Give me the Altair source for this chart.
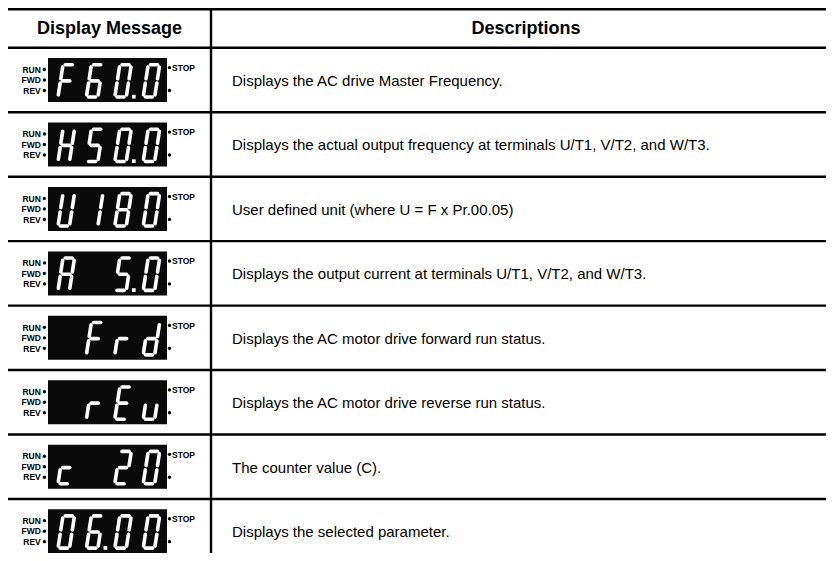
import altair as alt
import pandas as pd

# ---------------- data ----------------
headers = ["Display Message", "Descriptions"]
display_codes = ["F60.0", "H50.0", "U180", "A 5.0", " Frd", " rEu", "c 20", "06.00"]
descriptions = [
    "Displays the AC drive Master Frequency.",
    "Displays the actual output frequency at terminals U/T1, V/T2, and W/T3.",
    "User defined unit (where U = F x Pr.00.05)",
    "Displays the output current at terminals U/T1, V/T2, and W/T3.",
    "Displays the AC motor drive forward run status.",
    "Displays the AC motor drive reverse run status.",
    "The counter value (C).",
    "Displays the selected parameter.",
]
left_indicators = ["RUN", "FWD", "REV"]
right_indicator = "STOP"

# seven-segment glyph table (which segments are lit)
SEG_MAP = {
    "0": "abcdef", "1": "bc", "2": "abdeg", "5": "acdfg", "6": "acdefg",
    "8": "abcdefg", "A": "abcefg", "E": "adefg", "F": "aefg", "H": "bcefg",
    "U": "bcdef", "c": "deg", "d": "bcdeg", "r": "eg", "u": "cde", " ": "",
}

# ---------------- layout (styles) ----------------
W, H = 818, 545
TOP = 1.2
HEAD_BOT = 39.8
ROW_H = 64.45
DIV_X = 203
TABLE_R = 833
RECT_L, RECT_R, RECT_HH = 40, 159, 22
DIG_X0, PITCH = 50.0, 28.4
DW, DH, SL, INSET = 11.5, 32.3, 5.0, 2.2
DIG_BOT = 17.0
FONT = "Liberation Sans"


def row_center(i):
    return HEAD_BOT + ROW_H * (i + 0.5)


def parse(code):
    chars, dps = [], []
    for ch in code:
        if ch == "." and dps:
            dps[-1] = True
        else:
            chars.append(ch)
            dps.append(False)
    return chars, dps


SEG_GEOM = {
    "a": ((INSET, DH), (DW - INSET, DH)),
    "b": ((DW, DH / 2 + INSET), (DW, DH - INSET)),
    "c": ((DW, INSET), (DW, DH / 2 - INSET)),
    "d": ((INSET, 0), (DW - INSET, 0)),
    "e": ((0, INSET), (0, DH / 2 - INSET)),
    "f": ((0, DH / 2 + INSET), (0, DH - INSET)),
    "g": ((INSET, DH / 2), (DW - INSET, DH / 2)),
}

# table lines
n_rows = len(descriptions)
hlines = [TOP, HEAD_BOT] + [HEAD_BOT + ROW_H * (k + 1) for k in range(n_rows)]
lines_df = pd.DataFrame(
    [{"x": 0, "x2": W, "y": y, "y2": y} for y in hlines]
    + [{"x": DIV_X, "x2": DIV_X, "y": TOP, "y2": H}]
)

rect_rows, seg_rows, dp_rows, dot_rows, lab_rows, desc_rows = [], [], [], [], [], []
for i, (code, desc) in enumerate(zip(display_codes, descriptions)):
    cy = row_center(i)
    rect_rows.append({"x": RECT_L, "x2": RECT_R, "y": cy - RECT_HH, "y2": cy + RECT_HH})
    chars, dps = parse(code)
    ybot = cy + DIG_BOT
    for p, (ch, dp) in enumerate(zip(chars, dps)):
        xl = DIG_X0 + PITCH * p
        for s in SEG_MAP.get(ch, ""):
            (lx1, ly1), (lx2, ly2) = SEG_GEOM[s]
            seg_rows.append({
                "x": xl + lx1 + SL * ly1 / DH, "y": ybot - ly1,
                "x2": xl + lx2 + SL * ly2 / DH, "y2": ybot - ly2,
            })
        if dp:
            dp_rows.append({"x": xl + DW + 7.5, "y": ybot - 0.3})
    for k, lab in enumerate(left_indicators):
        yy = cy + (k - 1) * 10.5
        lab_rows.append({"x": 32.8, "y": yy + 3.2, "text": lab, "al": "right"})
        dot_rows.append({"x": 36.4, "y": yy})
    dot_rows.append({"x": 161.5, "y": cy - 12.4})
    dot_rows.append({"x": 161.5, "y": cy + 10.5})
    lab_rows.append({"x": 164.0, "y": cy - 12.4 + 3.2, "text": right_indicator, "al": "left"})
    desc_rows.append({"x": DIV_X + 21, "y": cy + 6, "text": desc})

head_df = pd.DataFrame([
    {"x": DIV_X / 2, "y": 26.3, "text": headers[0]},
    {"x": (DIV_X + TABLE_R) / 2, "y": 26.3, "text": headers[1]},
])

xs = alt.Scale(domain=[0, W], nice=False, zero=False)
ys = alt.Scale(domain=[0, H], nice=False, zero=False, reverse=True)


def xy():
    return dict(x=alt.X("x:Q", scale=xs, axis=None), y=alt.Y("y:Q", scale=ys, axis=None))


lines = alt.Chart(lines_df).mark_rule(color="#000000", strokeWidth=2.4).encode(
    **xy(), x2="x2:Q", y2="y2:Q")
rects = alt.Chart(pd.DataFrame(rect_rows)).mark_rect(color="#0a0a0a").encode(
    **xy(), x2="x2:Q", y2="y2:Q")
segs = alt.Chart(pd.DataFrame(seg_rows)).mark_rule(
    color="#ffffff", strokeWidth=3.6, strokeCap="round").encode(**xy(), x2="x2:Q", y2="y2:Q")
dps_l = alt.Chart(pd.DataFrame(dp_rows)).mark_square(
    color="#ffffff", size=14, opacity=1, filled=True).encode(**xy())
dots = alt.Chart(pd.DataFrame(dot_rows)).mark_circle(
    color="#000000", size=11, opacity=1).encode(**xy())
lab_df = pd.DataFrame(lab_rows)
labs_r = alt.Chart(lab_df[lab_df["al"] == "right"]).mark_text(
    align="right", baseline="alphabetic", font=FONT, fontSize=8.5, fontWeight="bold",
    color="#000000").encode(**xy(), text="text:N")
labs_l = alt.Chart(lab_df[lab_df["al"] == "left"]).mark_text(
    align="left", baseline="alphabetic", font=FONT, fontSize=8.5, fontWeight="bold",
    color="#000000").encode(**xy(), text="text:N")
heads = alt.Chart(head_df).mark_text(
    align="center", baseline="alphabetic", font=FONT, fontSize=18, fontWeight="bold",
    color="#000000").encode(**xy(), text="text:N")
descs = alt.Chart(pd.DataFrame(desc_rows)).mark_text(
    align="left", baseline="alphabetic", font=FONT, fontSize=15,
    color="#000000").encode(**xy(), text="text:N")

chart = alt.layer(
    lines, rects, segs, dps_l, dots, labs_r, labs_l, heads, descs
).properties(
    width=W, height=H, padding=0, background="#ffffff",
    autosize=alt.AutoSizeParams(type="none"),
).configure_view(stroke=None)

chart.save("out.html", embed_options={"renderer": "svg", "actions": False})
